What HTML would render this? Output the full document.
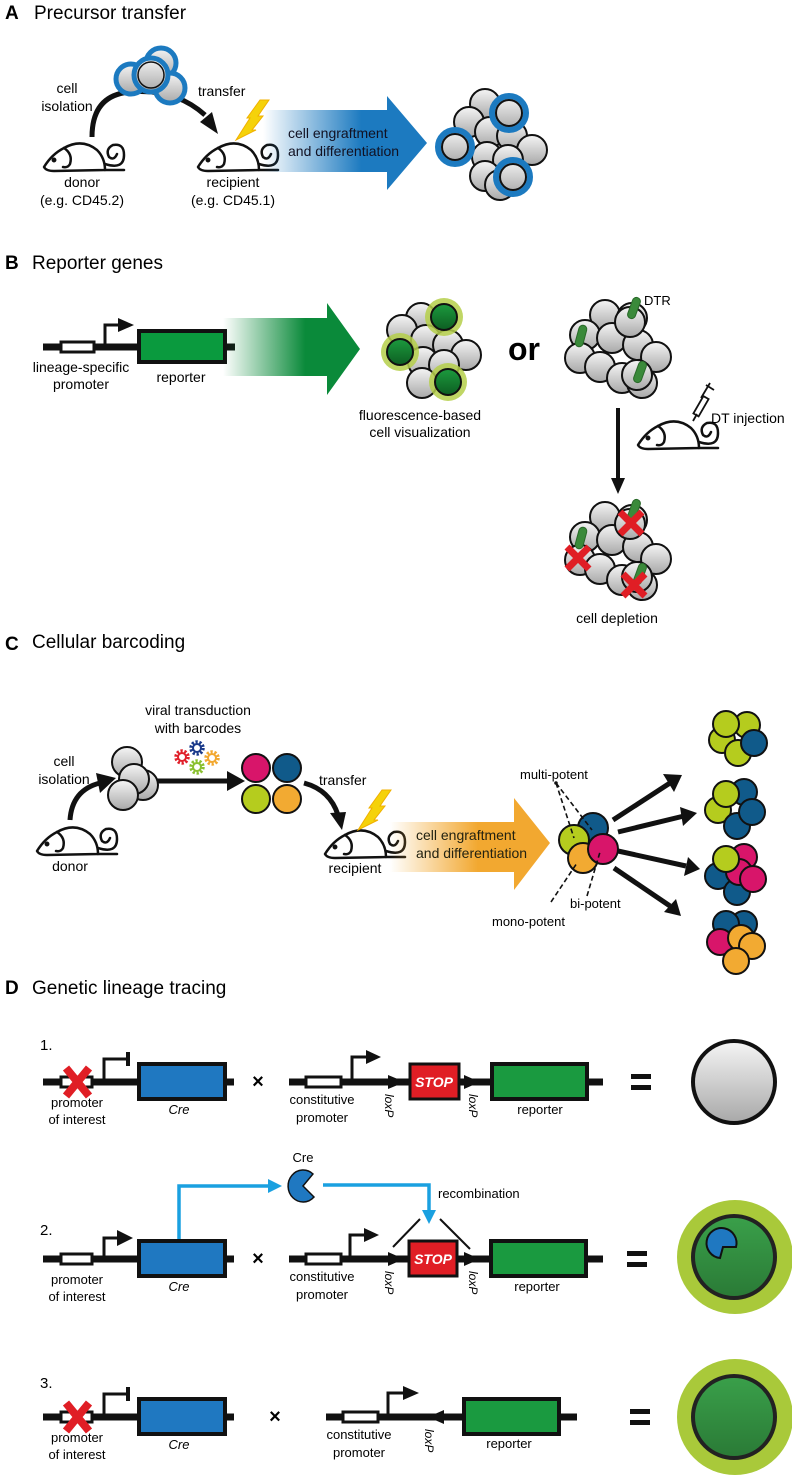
<!DOCTYPE html>
<html><head><meta charset="utf-8"><style>
html,body{margin:0;padding:0;background:#fff;}
svg{display:block;font-family:"Liberation Sans",sans-serif;}
</style></head><body>
<svg width="792" height="1476" viewBox="0 0 792 1476" xmlns="http://www.w3.org/2000/svg">
<defs>
<linearGradient id="gc" x1="0" y1="0" x2="0" y2="1"><stop offset="0" stop-color="#f5f5f5"/><stop offset="1" stop-color="#a8a8a8"/></linearGradient>
<linearGradient id="gg" x1="0" y1="0" x2="0" y2="1"><stop offset="0" stop-color="#1c9a3e"/><stop offset="1" stop-color="#0d5e22"/></linearGradient>
<linearGradient id="gd" x1="0" y1="0" x2="0" y2="1"><stop offset="0" stop-color="#3aa04a"/><stop offset="1" stop-color="#2a7a36"/></linearGradient>
<linearGradient id="ab" x1="263" y1="0" x2="427" y2="0" gradientUnits="userSpaceOnUse"><stop offset="0" stop-color="#1c7ac0" stop-opacity="0"/><stop offset="0.6" stop-color="#1c7ac0"/><stop offset="1" stop-color="#1c7ac0"/></linearGradient>
<linearGradient id="agr" x1="223" y1="0" x2="360" y2="0" gradientUnits="userSpaceOnUse"><stop offset="0" stop-color="#0a8a3a" stop-opacity="0"/><stop offset="0.6" stop-color="#0a8a3a"/><stop offset="1" stop-color="#0a8a3a"/></linearGradient>
<linearGradient id="ao" x1="390" y1="0" x2="550" y2="0" gradientUnits="userSpaceOnUse"><stop offset="0" stop-color="#f2a830" stop-opacity="0"/><stop offset="0.55" stop-color="#f2a830"/><stop offset="1" stop-color="#f2a830"/></linearGradient>
<g id="mouse" fill="none" stroke="#111" stroke-width="2.5" stroke-linejoin="round" stroke-linecap="round">
<path d="M2,27 Q10,14 22,8 Q40,-2 55,10 Q63,18 63,30 L12,31 Q4,31 2,27 Z" fill="#fff"/>
<path d="M22,8 Q31,14 28,24 Q26,28 21,27"/>
<path d="M63,30 L82,30 M63,24 Q82,30 82,15 Q82,3 71,5 Q63,9 67,17 Q72,21 75,14"/>
<circle cx="12" cy="20" r="1.2" fill="#111"/>
</g>
<g id="bolt"><path d="M0,0 L14,-22 L11,-22 L24,-40 L33,-40 L22,-24 L27,-24 L16,-10 L20,-10 Z" fill="#f5d20a" stroke="#f0b000" stroke-width="1"/></g>
<circle id="cg" r="15" fill="url(#gc)" stroke="#111" stroke-width="2"/>
<g id="gear"><circle r="6" fill="none" stroke-width="3.5" stroke-dasharray="2.2 1.6"/><circle r="4" fill="none" stroke-width="2"/></g>
<g id="dtcl">
<use href="#cg" x="605" y="315"/><use href="#cg" x="632" y="318"/><use href="#cg" x="585" y="335"/><use href="#cg" x="612" y="338"/><use href="#cg" x="638" y="345"/><use href="#cg" x="656" y="357"/><use href="#cg" x="580" y="358"/><use href="#cg" x="600" y="367"/><use href="#cg" x="622" y="378"/><use href="#cg" x="642" y="383"/><use href="#cg" x="630" y="322"/><use href="#cg" x="637" y="375"/>
</g>
</defs>

<!-- A -->
<text x="5" y="19" font-size="19" font-weight="bold">A</text>
<text x="34" y="19" font-size="19">Precursor transfer</text>
<path d="M92,137 Q92,95 130,92 Q175,88 205,115" fill="none" stroke="#111" stroke-width="5"/>
<polygon points="200,122 218,134 212,112" fill="#111"/>
<g stroke-width="5">
<circle cx="131" cy="79" r="15" fill="url(#gc)" stroke="#1c7ac0"/>
<circle cx="161" cy="63" r="15" fill="url(#gc)" stroke="#1c7ac0"/>
<circle cx="170" cy="88" r="15" fill="url(#gc)" stroke="#1c7ac0"/>
<circle cx="151" cy="75" r="17" fill="url(#gc)" stroke="#1c7ac0"/>
</g>
<circle cx="151" cy="75" r="13" fill="none" stroke="#111" stroke-width="1.5"/>
<text x="67" y="93" font-size="14" text-anchor="middle">cell</text>
<text x="67" y="111" font-size="14" text-anchor="middle">isolation</text>
<text x="198" y="96" font-size="14">transfer</text>
<use href="#mouse" x="42" y="140"/>
<use href="#mouse" x="196" y="140"/>
<use href="#bolt" x="236" y="140"/>
<text x="82" y="187" font-size="14" text-anchor="middle">donor</text>
<text x="82" y="205" font-size="14" text-anchor="middle">(e.g. CD45.2)</text>
<text x="233" y="187" font-size="14" text-anchor="middle">recipient</text>
<text x="233" y="205" font-size="14" text-anchor="middle">(e.g. CD45.1)</text>
<polygon points="263,110 387,110 387,96 427,143 387,190 387,172 263,172" fill="url(#ab)"/>
<text x="288" y="138" font-size="14" fill="#112">cell engraftment</text>
<text x="288" y="156" font-size="14" fill="#112">and differentiation</text>
<use href="#cg" x="485" y="104"/><use href="#cg" x="469" y="122"/><use href="#cg" x="490" y="132"/><use href="#cg" x="512" y="136"/><use href="#cg" x="532" y="150"/><use href="#cg" x="487" y="157"/><use href="#cg" x="508" y="160"/><use href="#cg" x="485" y="176"/><use href="#cg" x="500" y="185"/>
<g fill="url(#gc)">
<circle cx="455" cy="147" r="17" stroke="#1c7ac0" stroke-width="6"/><circle cx="455" cy="147" r="13" fill="none" stroke="#111" stroke-width="2"/>
<circle cx="509" cy="113" r="17" stroke="#1c7ac0" stroke-width="6"/><circle cx="509" cy="113" r="13" fill="none" stroke="#111" stroke-width="2"/>
<circle cx="513" cy="177" r="17" stroke="#1c7ac0" stroke-width="6"/><circle cx="513" cy="177" r="13" fill="none" stroke="#111" stroke-width="2"/>
</g>

<!-- B -->
<text x="5" y="269" font-size="19" font-weight="bold">B</text>
<text x="32" y="269" font-size="19">Reporter genes</text>
<line x1="43" y1="347" x2="235" y2="347" stroke="#111" stroke-width="7"/>
<rect x="61" y="342" width="33" height="10" fill="#fff" stroke="#111" stroke-width="3"/>
<path d="M105,347 V325 H120" fill="none" stroke="#111" stroke-width="3"/>
<polygon points="118,318 134,325 118,332" fill="#111"/>
<rect x="139" y="331" width="86" height="31" fill="#0a9a3e" stroke="#111" stroke-width="4"/>
<text x="81" y="372" font-size="14" text-anchor="middle">lineage-specific</text>
<text x="81" y="389" font-size="14" text-anchor="middle">promoter</text>
<text x="181" y="382" font-size="14" text-anchor="middle">reporter</text>
<polygon points="223,318 327,318 327,303 360,349 327,395 327,376 223,376" fill="url(#agr)"/>
<use href="#cg" x="421" y="318"/><use href="#cg" x="402" y="330"/><use href="#cg" x="426" y="340"/><use href="#cg" x="448" y="345"/><use href="#cg" x="466" y="355"/><use href="#cg" x="423" y="362"/><use href="#cg" x="444" y="365"/><use href="#cg" x="422" y="383"/>
<circle cx="444" cy="317" r="19" fill="#b5cf4a" opacity="0.85"/><circle cx="444" cy="317" r="13" fill="url(#gg)" stroke="#111" stroke-width="2"/>
<circle cx="400" cy="352" r="19" fill="#b5cf4a" opacity="0.85"/><circle cx="400" cy="352" r="13" fill="url(#gg)" stroke="#111" stroke-width="2"/>
<circle cx="448" cy="382" r="19" fill="#b5cf4a" opacity="0.85"/><circle cx="448" cy="382" r="13" fill="url(#gg)" stroke="#111" stroke-width="2"/>
<text x="420" y="420" font-size="14" text-anchor="middle">fluorescence-based</text>
<text x="420" y="437" font-size="14" text-anchor="middle">cell visualization</text>
<text x="508" y="360" font-size="32" font-weight="bold">or</text>
<use href="#dtcl"/>
<g fill="#3a8a3a" stroke="#2a6a2a" stroke-width="1">
<rect x="-4" y="-11" width="8" height="22" rx="4" transform="translate(634,308) rotate(20)"/>
<rect x="-4" y="-11" width="8" height="22" rx="4" transform="translate(581,336) rotate(15)"/>
<rect x="-4" y="-11" width="8" height="22" rx="4" transform="translate(640,372) rotate(20)"/>
</g>
<text x="644" y="305" font-size="13">DTR</text>
<line x1="618" y1="408" x2="618" y2="480" stroke="#111" stroke-width="4"/>
<polygon points="611,478 625,478 618,494" fill="#111"/>
<use href="#mouse" x="636" y="418"/>
<g stroke="#111" stroke-width="1.8" fill="#fff"><rect x="-3" y="-12" width="6" height="20" transform="translate(700,408) rotate(30)"/><path d="M701,398 L710,383 M706,385 L714,390 M697,414 L693,421" fill="none"/></g>
<text x="711" y="423" font-size="14">DT injection</text>
<g transform="translate(0,202)"><use href="#dtcl"/></g>
<g fill="#3a8a3a" stroke="#2a6a2a" stroke-width="1">
<rect x="-4" y="-11" width="8" height="22" rx="4" transform="translate(634,510) rotate(20)"/>
<rect x="-4" y="-11" width="8" height="22" rx="4" transform="translate(581,538) rotate(15)"/>
<rect x="-4" y="-11" width="8" height="22" rx="4" transform="translate(640,574) rotate(20)"/>
</g>
<g stroke="#e01e25" stroke-width="7" stroke-linecap="butt">
<path d="M620,512 L642,534 M642,512 L620,534"/>
<path d="M567,547 L589,569 M589,547 L567,569"/>
<path d="M623,574 L645,596 M645,574 L623,596"/>
</g>
<text x="617" y="623" font-size="14" text-anchor="middle">cell depletion</text>

<!-- C -->
<text x="5" y="650" font-size="19" font-weight="bold">C</text>
<text x="32" y="648" font-size="19">Cellular barcoding</text>
<text x="198" y="715" font-size="14" text-anchor="middle">viral transduction</text>
<text x="198" y="733" font-size="14" text-anchor="middle">with barcodes</text>
<use href="#gear" x="182" y="757" stroke="#e0202a"/>
<use href="#gear" x="197" y="748" stroke="#1a3a8a"/>
<use href="#gear" x="212" y="758" stroke="#f2a830"/>
<use href="#gear" x="197" y="767" stroke="#8ac030"/>
<text x="64" y="766" font-size="14" text-anchor="middle">cell</text>
<text x="64" y="784" font-size="14" text-anchor="middle">isolation</text>
<path d="M70,820 Q72,790 100,783" fill="none" stroke="#111" stroke-width="5"/>
<polygon points="96,773 116,778 100,793" fill="#111"/>
<use href="#cg" x="127" y="762"/><use href="#cg" x="143" y="785"/><use href="#cg" x="134" y="779"/><use href="#cg" x="123" y="795"/>
<line x1="157" y1="781" x2="230" y2="781" stroke="#111" stroke-width="5"/>
<polygon points="227,771 245,781 227,791" fill="#111"/>
<circle cx="256" cy="768" r="14" fill="#d8156a" stroke="#111" stroke-width="2"/>
<circle cx="287" cy="768" r="14" fill="#105a8a" stroke="#111" stroke-width="2"/>
<circle cx="256" cy="799" r="14" fill="#b5cc1e" stroke="#111" stroke-width="2"/>
<circle cx="287" cy="799" r="14" fill="#f2aa32" stroke="#111" stroke-width="2"/>
<text x="319" y="785" font-size="14">transfer</text>
<path d="M304,783 Q330,790 338,815" fill="none" stroke="#111" stroke-width="5"/>
<polygon points="330,813 346,812 342,830" fill="#111"/>
<use href="#mouse" x="35" y="824"/>
<use href="#mouse" x="323" y="827"/>
<use href="#bolt" x="358" y="830"/>
<text x="70" y="871" font-size="14" text-anchor="middle">donor</text>
<text x="355" y="873" font-size="14" text-anchor="middle">recipient</text>
<polygon points="390,822 514,822 514,798 550,843 514,890 514,872 390,872" fill="url(#ao)"/>
<text x="416" y="840" font-size="14" fill="#221">cell engraftment</text>
<text x="416" y="858" font-size="14" fill="#221">and differentiation</text>
<circle cx="593" cy="828" r="15" fill="#105a8a" stroke="#111" stroke-width="2"/>
<circle cx="574" cy="840" r="15" fill="#b5cc1e" stroke="#111" stroke-width="2"/>
<circle cx="583" cy="858" r="15" fill="#f2aa32" stroke="#111" stroke-width="2"/>
<circle cx="603" cy="849" r="15" fill="#d8156a" stroke="#111" stroke-width="2"/>
<text x="520" y="779" font-size="13">multi-potent</text>
<circle cx="556" cy="783" r="1.8" fill="#111"/>
<g stroke="#111" stroke-width="1.6" stroke-dasharray="5 3">
<line x1="556" y1="783" x2="574" y2="838"/><line x1="556" y1="783" x2="592" y2="830"/>
<line x1="551" y1="902" x2="577" y2="863"/><line x1="587" y1="896" x2="600" y2="852"/>
</g>
<text x="570" y="908" font-size="13">bi-potent</text>
<text x="492" y="926" font-size="13">mono-potent</text>
<g stroke="#111" stroke-width="5">
<line x1="613" y1="820" x2="670" y2="783"/><line x1="618" y1="832" x2="684" y2="816"/><line x1="618" y1="851" x2="686" y2="866"/><line x1="614" y1="868" x2="670" y2="906"/>
</g>
<g fill="#111">
<polygon points="663,774 682,775 674,792"/><polygon points="680,807 697,813 683,826"/><polygon points="688,857 700,869 684,876"/><polygon points="676,899 681,916 664,912"/>
</g>
<g stroke="#111" stroke-width="2">
<circle cx="747" cy="725" r="13" fill="#b5cc1e"/><circle cx="722" cy="740" r="13" fill="#b5cc1e"/><circle cx="738" cy="753" r="13" fill="#b5cc1e"/><circle cx="726" cy="724" r="13" fill="#b5cc1e"/><circle cx="754" cy="743" r="13" fill="#105a8a"/>
<circle cx="744" cy="792" r="13" fill="#105a8a"/><circle cx="718" cy="810" r="13" fill="#b5cc1e"/><circle cx="737" cy="826" r="13" fill="#105a8a"/><circle cx="752" cy="812" r="13" fill="#105a8a"/><circle cx="726" cy="794" r="13" fill="#b5cc1e"/>
<circle cx="744" cy="857" r="13" fill="#d8156a"/><circle cx="718" cy="876" r="13" fill="#105a8a"/><circle cx="737" cy="892" r="13" fill="#105a8a"/><circle cx="739" cy="872" r="13" fill="#d8156a"/><circle cx="753" cy="879" r="13" fill="#d8156a"/><circle cx="726" cy="859" r="13" fill="#b5cc1e"/>
<circle cx="744" cy="924" r="13" fill="#105a8a"/><circle cx="726" cy="924" r="13" fill="#105a8a"/><circle cx="720" cy="942" r="13" fill="#d8156a"/><circle cx="741" cy="938" r="13" fill="#f2aa32"/><circle cx="752" cy="946" r="13" fill="#f2aa32"/><circle cx="736" cy="961" r="13" fill="#f2aa32"/>
</g>

<!-- D -->
<text x="5" y="994" font-size="19" font-weight="bold">D</text>
<text x="32" y="994" font-size="19">Genetic lineage tracing</text>

<!-- Row 1 -->
<text x="40" y="1050" font-size="15">1.</text>
<g transform="translate(0,1082)">
<line x1="43" y1="0" x2="234" y2="0" stroke="#111" stroke-width="7"/>
<rect x="61" y="-5" width="31" height="10" fill="#fff" stroke="#111" stroke-width="3"/>
<path d="M66,-14 L89,14 M89,-14 L66,14" stroke="#e01e25" stroke-width="8"/>
<path d="M104,0 V-23 H126" fill="none" stroke="#111" stroke-width="3"/><line x1="128" y1="-30" x2="128" y2="-16" stroke="#111" stroke-width="4"/>
<rect x="139" y="-18" width="86" height="35" fill="#1f78c1" stroke="#111" stroke-width="4"/>
<text x="77" y="25" font-size="13" text-anchor="middle">promoter</text><text x="77" y="42" font-size="13" text-anchor="middle">of interest</text>
<text x="179" y="32" font-size="13" text-anchor="middle" font-style="italic">Cre</text>
<text x="258" y="6" font-size="20" font-weight="bold" text-anchor="middle">×</text>
<line x1="289" y1="0" x2="603" y2="0" stroke="#111" stroke-width="7"/>
<rect x="306" y="-5" width="35" height="10" fill="#fff" stroke="#111" stroke-width="3"/>
<path d="M352,0 V-25 H368" fill="none" stroke="#111" stroke-width="3"/><polygon points="366,-32 381,-25 366,-18" fill="#111"/>
<polygon points="388,-7 405,0 388,7" fill="#111"/>
<rect x="410" y="-18" width="49" height="35" fill="#e01e25" stroke="#111" stroke-width="3"/>
<text x="434" y="5" font-size="14" font-weight="bold" font-style="italic" fill="#fff" text-anchor="middle">STOP</text>
<polygon points="464,-7 480,0 464,7" fill="#111"/>
<rect x="492" y="-18" width="95" height="35" fill="#1a9a40" stroke="#111" stroke-width="4"/>
<text x="322" y="22" font-size="13" text-anchor="middle">constitutive</text><text x="322" y="40" font-size="13" text-anchor="middle">promoter</text>
<text transform="translate(385,12) rotate(90)" font-size="12" font-style="italic">loxP</text>
<text transform="translate(469,12) rotate(90)" font-size="12" font-style="italic">loxP</text>
<text x="540" y="32" font-size="13" text-anchor="middle">reporter</text>
<rect x="631" y="-8" width="20" height="5" fill="#111"/><rect x="631" y="3" width="20" height="5" fill="#111"/>
<circle cx="734" cy="0" r="41" fill="url(#gc)" stroke="#111" stroke-width="4"/>
</g>

<!-- Row 2 -->
<text x="40" y="1235" font-size="15">2.</text>
<text x="303" y="1162" font-size="13" text-anchor="middle">Cre</text>
<path d="M313,1174 A15,16 0 1,0 314,1197 L303,1186 Z" fill="#1f78c1" stroke="#111" stroke-width="1.5"/>
<path d="M179,1240 V1186 H270" fill="none" stroke="#1aa0e0" stroke-width="3.5"/>
<polygon points="268,1179 282,1186 268,1193" fill="#1aa0e0"/>
<path d="M323,1185 H429 V1212" fill="none" stroke="#1aa0e0" stroke-width="3.5"/>
<polygon points="422,1210 436,1210 429,1224" fill="#1aa0e0"/>
<text x="438" y="1198" font-size="13">recombination</text>
<g transform="translate(0,1259)">
<line x1="43" y1="0" x2="234" y2="0" stroke="#111" stroke-width="7"/>
<rect x="61" y="-5" width="31" height="10" fill="#fff" stroke="#111" stroke-width="3"/>
<path d="M104,0 V-21 H118" fill="none" stroke="#111" stroke-width="3"/><polygon points="117,-29 133,-21 117,-13" fill="#111"/>
<rect x="139" y="-18" width="86" height="35" fill="#1f78c1" stroke="#111" stroke-width="4"/>
<text x="77" y="25" font-size="13" text-anchor="middle">promoter</text><text x="77" y="42" font-size="13" text-anchor="middle">of interest</text>
<text x="179" y="32" font-size="13" text-anchor="middle" font-style="italic">Cre</text>
<text x="258" y="6" font-size="20" font-weight="bold" text-anchor="middle">×</text>
<line x1="289" y1="0" x2="603" y2="0" stroke="#111" stroke-width="7"/>
<rect x="306" y="-5" width="35" height="10" fill="#fff" stroke="#111" stroke-width="3"/>
<path d="M350,0 V-24 H365" fill="none" stroke="#111" stroke-width="3"/><polygon points="364,-31 379,-24 364,-17" fill="#111"/>
<polygon points="388,-7 404,0 388,7" fill="#111"/>
<rect x="409" y="-18" width="48" height="35" fill="#e01e25" stroke="#111" stroke-width="3"/>
<text x="433" y="5" font-size="14" font-weight="bold" font-style="italic" fill="#fff" text-anchor="middle">STOP</text>
<polygon points="464,-7 480,0 464,7" fill="#111"/>
<rect x="491" y="-18" width="95" height="35" fill="#1a9a40" stroke="#111" stroke-width="4"/>
<line x1="393" y1="-12" x2="420" y2="-40" stroke="#111" stroke-width="2"/><line x1="440" y1="-40" x2="470" y2="-10" stroke="#111" stroke-width="2"/>
<text x="322" y="22" font-size="13" text-anchor="middle">constitutive</text><text x="322" y="40" font-size="13" text-anchor="middle">promoter</text>
<text transform="translate(385,12) rotate(90)" font-size="12" font-style="italic">loxP</text>
<text transform="translate(469,12) rotate(90)" font-size="12" font-style="italic">loxP</text>
<text x="537" y="32" font-size="13" text-anchor="middle">reporter</text>
<rect x="627" y="-8" width="20" height="5" fill="#111"/><rect x="627" y="3" width="20" height="5" fill="#111"/>
<ellipse cx="735" cy="-2" rx="58" ry="57" fill="#a9c93a"/>
<circle cx="734" cy="-2" r="41" fill="url(#gd)" stroke="#222" stroke-width="4"/>
<path d="M720,-1 A15,15 0 1,1 736,-12 L723,-12 Z" fill="#1f78c1" stroke="#111" stroke-width="2"/>
</g>

<!-- Row 3 -->
<text x="40" y="1388" font-size="15">3.</text>
<g transform="translate(0,1417)">
<line x1="43" y1="0" x2="234" y2="0" stroke="#111" stroke-width="7"/>
<rect x="61" y="-5" width="31" height="10" fill="#fff" stroke="#111" stroke-width="3"/>
<path d="M66,-14 L89,14 M89,-14 L66,14" stroke="#e01e25" stroke-width="8"/>
<path d="M104,0 V-23 H126" fill="none" stroke="#111" stroke-width="3"/><line x1="128" y1="-30" x2="128" y2="-16" stroke="#111" stroke-width="4"/>
<rect x="139" y="-18" width="86" height="35" fill="#1f78c1" stroke="#111" stroke-width="4"/>
<text x="77" y="25" font-size="13" text-anchor="middle">promoter</text><text x="77" y="42" font-size="13" text-anchor="middle">of interest</text>
<text x="179" y="32" font-size="13" text-anchor="middle" font-style="italic">Cre</text>
<text x="275" y="6" font-size="20" font-weight="bold" text-anchor="middle">×</text>
<line x1="326" y1="0" x2="577" y2="0" stroke="#111" stroke-width="7"/>
<rect x="343" y="-5" width="35" height="10" fill="#fff" stroke="#111" stroke-width="3"/>
<path d="M388,0 V-24 H404" fill="none" stroke="#111" stroke-width="3"/><polygon points="403,-31 419,-24 403,-17" fill="#111"/>
<polygon points="444,-7 428,0 444,7" fill="#111"/>
<rect x="464" y="-18" width="95" height="35" fill="#1a9a40" stroke="#111" stroke-width="4"/>
<text x="359" y="22" font-size="13" text-anchor="middle">constitutive</text><text x="359" y="40" font-size="13" text-anchor="middle">promoter</text>
<text transform="translate(425,12) rotate(90)" font-size="12" font-style="italic">loxP</text>
<text x="509" y="31" font-size="13" text-anchor="middle">reporter</text>
<rect x="630" y="-8" width="20" height="5" fill="#111"/><rect x="630" y="3" width="20" height="5" fill="#111"/>
<ellipse cx="735" cy="0" rx="58" ry="58" fill="#a9c93a"/>
<circle cx="734" cy="0" r="41" fill="url(#gd)" stroke="#222" stroke-width="4"/>
</g>
</svg>
</body></html>
